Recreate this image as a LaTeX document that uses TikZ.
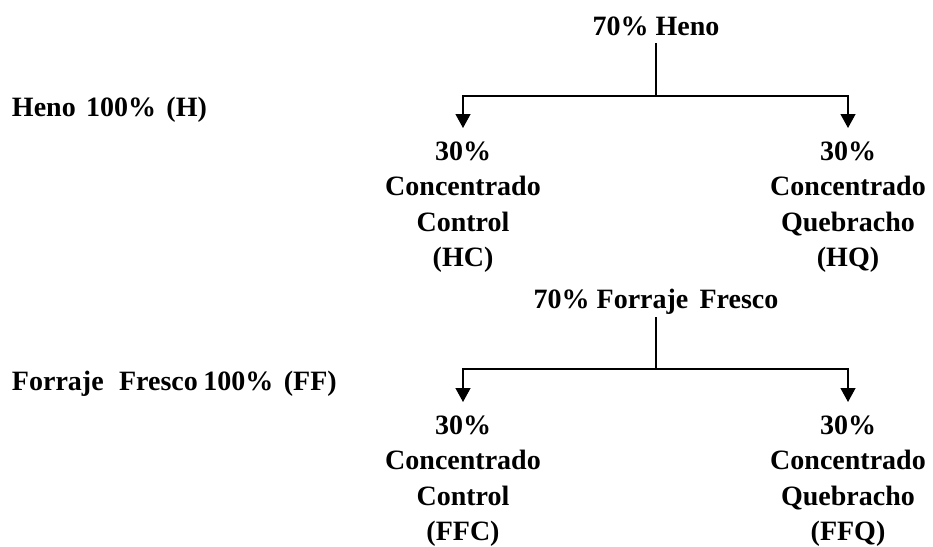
\documentclass[tikz,border=0pt]{standalone}
\usepackage{fontspec}
\setmainfont{Liberation Serif}
\usetikzlibrary{arrows.meta}
\begin{document}
\begin{tikzpicture}[x=1pt,y=-1pt,
  lbl/.style={font=\fontsize{28}{35.5}\selectfont\bfseries, inner sep=0pt, outer sep=0pt},
  blk/.style={lbl, align=center, anchor=north, inner ysep=13.6pt},
  conn/.style={line width=1.3pt},
  arr/.style={conn,-{Triangle[width=15pt,length=14pt]}}]
\useasboundingbox (0,0) rectangle (933,546);
% Heno group
\node[lbl, anchor=base] (h70) at (656,35) {70\% Heno};
\node[lbl, anchor=base west] (h100) at (12,116) {Heno\hspace{0.12em} 100\%\hspace{0.12em} (H)};
\node[blk] (hc) at (463,128) {30\%\\Concentrado\\Control\\(HC)};
\node[blk] (hq) at (848,128) {30\%\\Concentrado\\Quebracho\\(HQ)};
\coordinate (jH) at (656,96);
\draw[conn] ([yshift=-8pt]h70.base) -- (jH);
\draw[arr] (jH) -| (hc.north);
\draw[arr] (jH) -| (hq.north);
% Forraje fresco group
\node[lbl, anchor=base] (f70) at (656,308) {70\% Forraje\hspace{0.15em} Fresco};
\node[lbl, anchor=base west] (f100) at (12,390) {Forraje\hspace{0.3em} Fresco\hspace{-0.05em} 100\%\hspace{0.12em} (FF)};
\node[blk] (ffc) at (463,402) {30\%\\Concentrado\\Control\\(FFC)};
\node[blk] (ffq) at (848,402) {30\%\\Concentrado\\Quebracho\\(FFQ)};
\coordinate (jF) at (656,369);
\draw[conn] ([yshift=-9pt]f70.base) -- (jF);
\draw[arr] (jF) -| (ffc.north);
\draw[arr] (jF) -| (ffq.north);
\end{tikzpicture}
\end{document}
